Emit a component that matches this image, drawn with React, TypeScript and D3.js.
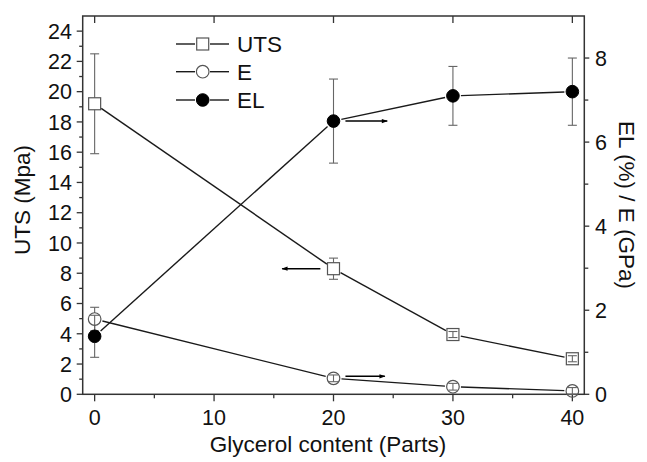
import React from "react";
import * as d3 from "d3";

const xValues = [0, 20, 30, 40];
const utsValues = [19.2, 8.3, 3.95, 2.35];
const utsErr = [3.3, 0.7, 0.2, 0.2];
const eValues = [1.79, 0.38, 0.18, 0.08];
const eErr = [0.28, 0.08, 0.08, 0.08];
const elValues = [1.38, 6.5, 7.1, 7.2];
const elErr = [0.5, 1.0, 0.7, 0.8];

const xTicks = [0, 10, 20, 30, 40];
const xMinor = [5, 15, 25, 35];
const leftTicks = [0, 2, 4, 6, 8, 10, 12, 14, 16, 18, 20, 22, 24];
const leftMinor = [1, 3, 5, 7, 9, 11, 13, 15, 17, 19, 21, 23];
const rightTicks = [0, 2, 4, 6, 8];
const rightMinor = [1, 3, 5, 7];

const legendLabels = ["UTS", "E", "EL"];

// arrows: [series, pointIndex, fromX, toX] in data units (x)
const arrows: [string, number, number, number][] = [
  ["EL", 1, 21.0, 24.5],
  ["UTS", 1, 18.9, 15.7],
  ["E", 1, 21.0, 24.3],
];

const W = 647;
const H = 462;
const L = 82.7, R = 584.3, T = 16, B = 394.3;
const FONT = "'Liberation Sans', Arial, Helvetica, sans-serif";

export default function App() {
  const x = d3.scaleLinear().domain([-1, 41]).range([L, R]);
  const yL = d3.scaleLinear().domain([0, 25]).range([B, T]);
  const yR = d3.scaleLinear().domain([0, 9]).range([B, T]);

  const axisColor = "#333";
  const lineColor = "#1a1a1a";
  const errColor = "#666";
  const mr = 6;
  const gap = 8;

  const segs = (pts: [number, number][]) => {
    const out: any[] = [];
    for (let i = 0; i < pts.length - 1; i++) {
      const [x1, y1] = pts[i];
      const [x2, y2] = pts[i + 1];
      const dx = x2 - x1, dy = y2 - y1;
      const len = Math.hypot(dx, dy);
      const ux = dx / len, uy = dy / len;
      out.push(
        <line key={i} x1={x1 + ux * gap} y1={y1 + uy * gap} x2={x2 - ux * gap} y2={y2 - uy * gap}
          stroke={lineColor} strokeWidth={1.4} />
      );
    }
    return out;
  };

  const errBars = (vals: number[], errs: number[], ys: any, key: string) =>
    xValues.map((xv, i) => {
      const cx = x(xv);
      const cy = ys(vals[i]);
      const top = ys(vals[i] + errs[i]);
      const bot = ys(vals[i] - errs[i]);
      const cw = 4.5;
      const outside = cy - top > mr;
      return (
        <g key={key + i} stroke={errColor} strokeWidth={1.1}>
          {outside ? (
            <>
              <line x1={cx} x2={cx} y1={top} y2={cy - mr} />
              <line x1={cx} x2={cx} y1={cy + mr} y2={bot} />
            </>
          ) : (
            <line x1={cx} x2={cx} y1={top} y2={bot} />
          )}
          <line x1={cx - cw} x2={cx + cw} y1={top} y2={top} />
          <line x1={cx - cw} x2={cx + cw} y1={bot} y2={bot} />
        </g>
      );
    });

  const utsPts: [number, number][] = xValues.map((v, i) => [x(v), yL(utsValues[i])]);
  const ePts: [number, number][] = xValues.map((v, i) => [x(v), yR(eValues[i])]);
  const elPts: [number, number][] = xValues.map((v, i) => [x(v), yR(elValues[i])]);

  const square = (cx: number, cy: number, k: string) => (
    <rect key={k} x={cx - 6} y={cy - 6} width={12} height={12} fill="none" stroke="#555" strokeWidth={1.2} />
  );
  const openCircle = (cx: number, cy: number, k: string) => (
    <circle key={k} cx={cx} cy={cy} r={6.3} fill="none" stroke="#555" strokeWidth={1.2} />
  );
  const filledCircle = (cx: number, cy: number, k: string) => (
    <circle key={k} cx={cx} cy={cy} r={6.3} fill="#000" stroke="#000" strokeWidth={1} />
  );

  const arrowY = (s: string, i: number) =>
    s === "UTS" ? yL(utsValues[i]) : s === "E" ? yR(eValues[i]) - 2 : yR(elValues[i]);

  const legendY = [44, 71.7, 100];
  const legendMarkers = [square, openCircle, filledCircle];

  return (
    <div style={{ position: "fixed", left: 0, top: 0, width: W, height: H, background: "#fff" }}>
      <svg width={W} height={H} style={{ display: "block", fontFamily: FONT }}>
        <defs>
          <marker id="ah" viewBox="0 0 10 10" refX="9" refY="5" markerWidth="9" markerHeight="6" orient="auto-start-reverse" markerUnits="userSpaceOnUse">
            <path d="M0,1.5 L10,5 L0,8.5 Z" fill="#000" />
          </marker>
        </defs>
        <rect width={W} height={H} fill="#fff" />

        {/* frame */}
        <rect x={L} y={T} width={R - L} height={B - T} fill="none" stroke={axisColor} strokeWidth={1.5} />

        {/* bottom ticks */}
        {xTicks.map((t) => (
          <g key={"xt" + t}>
            <line x1={x(t)} x2={x(t)} y1={B} y2={B + 7} stroke={axisColor} strokeWidth={1.3} />
            <line x1={x(t)} x2={x(t)} y1={T} y2={T + 7} stroke={axisColor} strokeWidth={1.3} />
            <text x={x(t)} y={424.5} textAnchor="middle" fontSize={21.5} fill="#111">{t}</text>
          </g>
        ))}
        {xMinor.map((t) => (
          <line key={"xm" + t} x1={x(t)} x2={x(t)} y1={B} y2={B + 4} stroke={axisColor} strokeWidth={1.3} />
        ))}

        {/* left ticks */}
        {leftTicks.map((t) => (
          <g key={"lt" + t}>
            <line x1={L - 6} x2={L} y1={yL(t)} y2={yL(t)} stroke={axisColor} strokeWidth={1.3} />
            <text x={72} y={yL(t)} dy="0.36em" textAnchor="end" fontSize={21.5} fill="#111">{t}</text>
          </g>
        ))}
        {leftMinor.map((t) => (
          <line key={"lm" + t} x1={L - 3.5} x2={L} y1={yL(t)} y2={yL(t)} stroke={axisColor} strokeWidth={1.3} />
        ))}

        {/* right ticks */}
        {rightTicks.map((t) => (
          <g key={"rt" + t}>
            <line x1={R} x2={R + 5} y1={yR(t)} y2={yR(t)} stroke={axisColor} strokeWidth={1.3} />
            <text x={595} y={yR(t)} dy="0.36em" textAnchor="start" fontSize={21.5} fill="#111">{t}</text>
          </g>
        ))}
        {rightMinor.map((t) => (
          <line key={"rm" + t} x1={R} x2={R + 4} y1={yR(t)} y2={yR(t)} stroke={axisColor} strokeWidth={1.3} />
        ))}

        {/* axis titles */}
        <text x={328} y={452} textAnchor="middle" fontSize={22.5} fill="#111">Glycerol content (Parts)</text>
        <text transform={`translate(30,200) rotate(-90)`} textAnchor="middle" fontSize={22.5} fill="#111">UTS (Mpa)</text>
        <text transform={`translate(619,205) rotate(90)`} textAnchor="middle" fontSize={22.5} fill="#111">EL (%) / E (GPa)</text>

        {/* lines */}
        {segs(utsPts)}
        {segs(ePts)}
        {segs(elPts)}

        {/* error bars */}
        {errBars(utsValues, utsErr, yL, "ue")}
        {errBars(eValues, eErr, yR, "ee")}
        {errBars(elValues, elErr, yR, "le")}

        {/* markers */}
        {utsPts.map(([cx, cy], i) => square(cx, cy, "us" + i))}
        {ePts.map(([cx, cy], i) => openCircle(cx, cy, "ec" + i))}
        {elPts.map(([cx, cy], i) => filledCircle(cx, cy, "lc" + i))}

        {/* arrows */}
        {arrows.map(([s, i, a, b], k) => (
          <line key={"ar" + k} x1={x(a)} x2={x(b)} y1={arrowY(s, i)} y2={arrowY(s, i)} stroke="#000" strokeWidth={1.5} markerEnd="url(#ah)" />
        ))}

        {/* legend */}
        {legendLabels.map((lab, i) => (
          <g key={"lg" + i}>
            <line x1={176} x2={195} y1={legendY[i]} y2={legendY[i]} stroke={lineColor} strokeWidth={1.4} />
            <line x1={210} x2={229} y1={legendY[i]} y2={legendY[i]} stroke={lineColor} strokeWidth={1.4} />
            {legendMarkers[i](202.7, legendY[i], "lgm" + i)}
            <text x={237} y={legendY[i]} dy="0.36em" fontSize={22.5} fill="#111">{lab}</text>
          </g>
        ))}
      </svg>
    </div>
  );
}
